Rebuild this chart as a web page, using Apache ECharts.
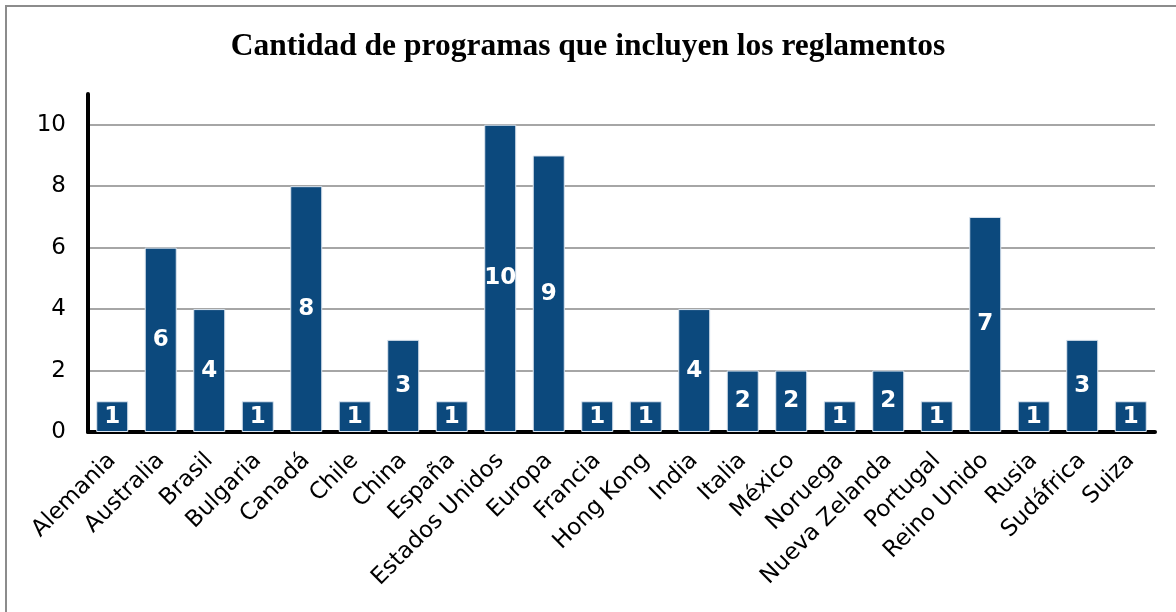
<!DOCTYPE html>
<html><head><meta charset="utf-8">
<script src="https://cdn.jsdelivr.net/npm/echarts@6/dist/echarts.min.js"></script>
<style>
html,body{margin:0;padding:0;background:#fff;overflow:hidden;}
#frame{position:absolute;left:5px;top:5px;width:1200px;height:640px;border-top:2px solid #8c8c8c;border-left:2px solid #8c8c8c;}
#chart{position:absolute;left:0;top:0;width:1176px;height:612px;}
</style></head>
<body>
<div id="frame"></div>
<div id="chart"></div>
<script>
const categories = ["Alemania","Australia","Brasil","Bulgaria","Canadá","Chile","China","España","Estados Unidos","Europa","Francia","Hong Kong","India","Italia","México","Noruega","Nueva Zelanda","Portugal","Reino Unido","Rusia","Sudáfrica","Suiza"];
const values = [1,6,4,1,8,1,3,1,10,9,1,1,4,2,2,1,2,1,7,1,3,1];
const titleText = "Cantidad de programas que incluyen los reglamentos";

const chart = echarts.init(document.getElementById('chart'), null, {renderer:'canvas'});
chart.setOption({
  animation:false,
  backgroundColor:'transparent',
  title:{
    text:titleText, left:'center', top:26,
    textStyle:{fontFamily:'Liberation Serif', fontWeight:'bold', fontSize:31.5, color:'#000'}
  },
  grid:{left:88, right:21, top:94, bottom:180, containLabel:false},
  xAxis:{
    type:'category', data:categories,
    axisLine:{show:true, lineStyle:{color:'#000', width:4}},
    axisTick:{show:false},
    axisLabel:{rotate:45, interval:0, margin:25, fontFamily:'DejaVu Sans', fontSize:23, color:'#000'}
  },
  yAxis:{
    type:'value', min:0, max:11, interval:2,
    axisLine:{show:true, lineStyle:{color:'#000', width:4}},
    axisTick:{show:false},
    axisLabel:{showMaxLabel:false, margin:22, fontFamily:'DejaVu Sans', fontSize:23, color:'#000'},
    splitLine:{show:true, showMaxLine:false, showMinLine:false, lineStyle:{color:'#888', width:1.5}}
  },
  series:[{
    type:'bar', data:values, barCategoryGap:'34%',
    itemStyle:{color:'#0c497d', borderColor:'#dde6f0', borderWidth:1},
    label:{show:true, position:'inside', color:'#fff', fontFamily:'DejaVu Sans', fontWeight:'bold', fontSize:23}
  }]
});
</script>
</body></html>
